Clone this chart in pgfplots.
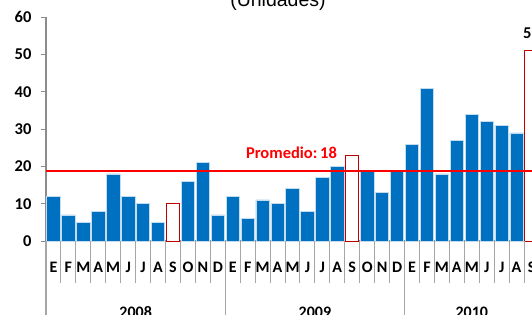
\documentclass[border=0pt]{standalone}
\usepackage{pgfplots}
\pgfplotsset{compat=1.18}
\usepackage{fontspec}
\setmainfont{Carlito}
\newfontfamily\arialfont{Liberation Sans}
\definecolor{barblue}{HTML}{0070C0}
\definecolor{baredge}{HTML}{C5DCEF}
\definecolor{hollowred}{HTML}{C00000}
\definecolor{axisgray}{HTML}{8C8C8C}
\definecolor{sepgray}{HTML}{A6A6A6}
\begin{document}
\begin{tikzpicture}
\begin{scope}
\clip (0,0) rectangle (532pt,314pt);
\node[anchor=base, font=\arialfont\fontsize{19.5}{19.5}\selectfont] at (278pt,307.3pt) {(Unidades)};
\begin{axis}[
  at={(46pt,73pt)}, anchor=south west,
  scale only axis, width=493pt, height=223.7pt,
  xmin=-0.5, xmax=32.5, ymin=0, ymax=60,
  axis lines=left, axis line style={-, axisgray, line width=1.3pt},
  ytick={0,10,...,60},
  tick align=outside, major tick length=5pt,
  ytick style={axisgray, line width=1pt},
  yticklabel style={font=\fontsize{16.5}{16.5}\selectfont\bfseries, xshift=-6pt},
  /pgf/number format/assume math mode=true,
  xtick={0,...,32},
  xticklabels={E,F,M,A,M,J,J,A,S,O,N,D,E,F,M,A,M,J,J,A,S,O,N,D,E,F,M,A,M,J,J,A,S},
  xtick style={draw=none},
  xticklabel style={font=\fontsize{16}{16}\selectfont\bfseries, anchor=base, yshift=-26pt},
  clip=false,
  ybar, bar width=13.4pt,
]
\addplot[ybar, bar shift=0pt, fill=barblue, draw=baredge, line width=0.7pt] coordinates {
(0,12) (1,7) (2,5) (3,8) (4,18) (5,12) (6,10) (7,5) (9,16) (10,21) (11,7)
(12,12) (13,6) (14,11) (15,10) (16,14) (17,8) (18,17) (19,20) (21,19) (22,13) (23,19)
(24,26) (25,41) (26,18) (27,27) (28,34) (29,32) (30,31) (31,29)};
\addplot[ybar, bar shift=0pt, fill=white, draw=hollowred, line width=1pt] coordinates {
(8,10) (20,23)};
\addplot[ybar, bar shift=0pt, fill=white, draw=hollowred, line width=1pt,
  nodes near coords, nodes near coords style={font=\fontsize{16.5}{16.5}\selectfont\bfseries, text=black, anchor=base, yshift=12.7pt}] coordinates {
(32,51)};
\addplot[sharp plot, red, line width=2pt, mark=none] coordinates {(-0.5,18.8) (32.5,18.8)};
\node[anchor=base, text=red, font=\fontsize{16.5}{16.5}\selectfont\bfseries] at (axis cs:15.93,22) {Promedio:\,18};
\pgfplotsinvokeforeach{0.5,1.5,...,31.5}{
  \draw[sepgray, line width=1pt] (axis cs:#1,0) -- ++(0pt,-42pt);
}
\pgfplotsinvokeforeach{-0.5,11.5,23.5}{
  \draw[sepgray, line width=1.2pt] (axis cs:#1,0) -- ++(0pt,-90pt);
}
\node[anchor=base, font=\fontsize{16}{16}\selectfont\bfseries] at (axis cs:5.5,0) [yshift=-76pt] {2008};
\node[anchor=base, font=\fontsize{16}{16}\selectfont\bfseries] at (axis cs:17.5,0) [yshift=-76pt] {2009};
\node[anchor=base, font=\fontsize{16}{16}\selectfont\bfseries] at (axis cs:28,0) [yshift=-76pt] {2010};
\end{axis}
\end{scope}
\pgfresetboundingbox
\path[use as bounding box] (0,0) rectangle (532pt,314pt);
\end{tikzpicture}
\end{document}
